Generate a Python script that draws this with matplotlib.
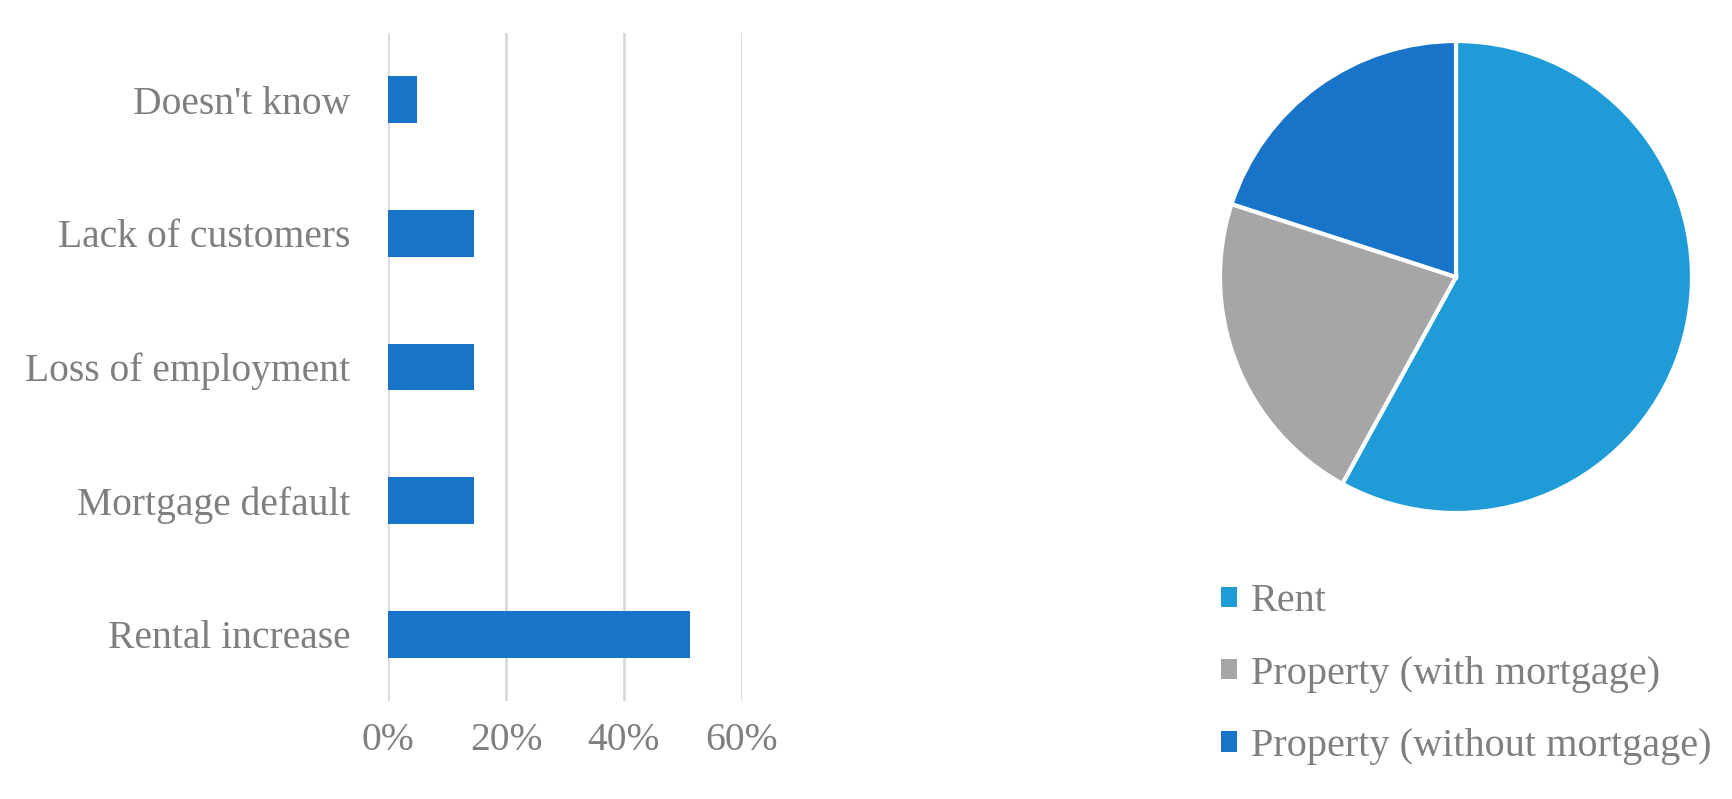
import matplotlib
matplotlib.use("Agg")
import matplotlib.pyplot as plt
from matplotlib.ticker import PercentFormatter

# Data
categories = ["Rental increase", "Mortgage default", "Loss of employment",
              "Lack of customers", "Doesn't know"]
shares = [51.2, 14.6, 14.6, 14.6, 4.9]
x_ticks = [0, 20, 40, 60]

pie_labels = ["Rent", "Property (with mortgage)", "Property (without mortgage)"]
pie_values = [58, 22, 20]
pie_colors = ["#1F9CD8", "#A6A6A6", "#1874C9"]

bar_color = "#1874C9"
text_color = "#7F7F7F"
font = ["Liberation Serif", "DejaVu Serif"]
plt.rcParams["font.family"] = font

W, H = 1732, 799
fig = plt.figure(figsize=(W / 100, H / 100), dpi=100)

# Bar chart
ax = fig.add_axes([388 / W, 1 - 701 / H, (742 - 388) / W, (701 - 33) / H])
ypos = list(range(len(categories)))
ax.barh(ypos, shares, height=0.35, color=bar_color, zorder=3)
ax.set_xlim(0, 60)
ax.set_ylim(-0.5, 4.5)
ax.set_xticks(x_ticks)
ax.xaxis.set_major_formatter(PercentFormatter(decimals=0))
ax.set_yticks(ypos)
ax.set_yticklabels(categories)
ax.grid(axis="x", color="#D9D9D9", linewidth=2, zorder=0)
for s in ax.spines.values():
    s.set_visible(False)
ax.tick_params(axis="both", length=0, labelsize=28.5, labelcolor=text_color)
ax.tick_params(axis="x", pad=15)
ax.tick_params(axis="y", pad=27)

# Pie chart
cx, cy, r = 1456, 277, 236
pax = fig.add_axes([(cx - r) / W, 1 - (cy + r) / H, 2 * r / W, 2 * r / H])
wedges, _ = pax.pie(pie_values, colors=pie_colors, startangle=90, counterclock=False,
                    radius=1, wedgeprops=dict(edgecolor="white", linewidth=3))
pax.set_xlim(-1, 1)
pax.set_ylim(-1, 1)
pax.set_aspect("equal")
pax.axis("off")

leg = fig.legend(wedges, pie_labels, loc="upper left",
                 bbox_to_anchor=(1205 / W, 1 - 567 / H), frameon=False,
                 fontsize=29, handlelength=0.4, handleheight=0.4,
                 handletextpad=0.33, labelspacing=0.88, borderaxespad=0)
for t in leg.get_texts():
    t.set_color(text_color)
for h in leg.legend_handles:
    h.set_edgecolor("none")

fig.savefig("out.png", dpi=100)
